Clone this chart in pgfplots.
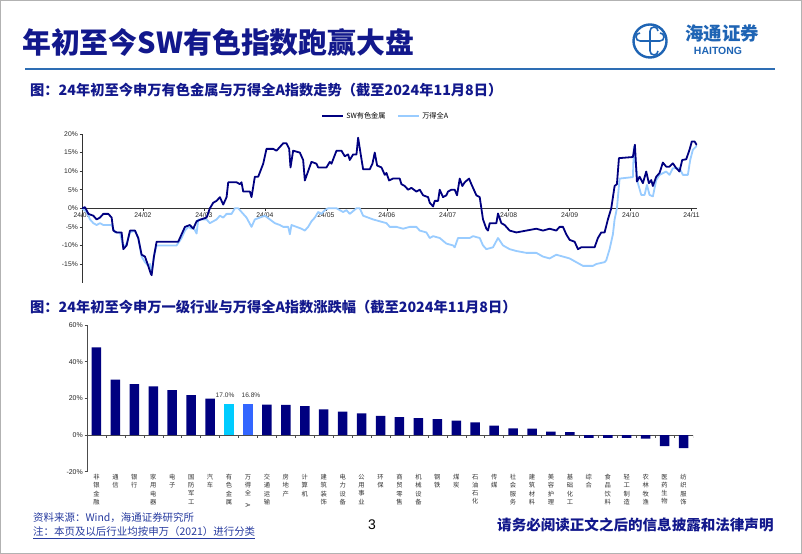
\documentclass[border=0pt]{standalone}
\usepackage{fontspec}
\setmainfont{Liberation Sans}
\newfontfamily\cjk{Noto Sans CJK SC}
\usepackage{pgfplots}
\pgfplotsset{compat=1.18}
\definecolor{titleblue}{RGB}{18,24,140}
\definecolor{ruleblue}{RGB}{46,110,180}
\definecolor{logoblue}{RGB}{30,100,180}
\definecolor{darkS}{RGB}{0,0,128}
\definecolor{lightS}{RGB}{153,204,255}
\definecolor{cyanbar}{RGB}{0,204,255}
\definecolor{bluebar}{RGB}{51,102,255}
\definecolor{footblue}{RGB}{40,60,160}
\begin{document}
\begin{tikzpicture}[x=1bp,y=1bp]
\useasboundingbox (0,0) rectangle (802,554);
\fill[white] (0,0) rectangle (802,554);
\draw[gray!60, line width=1bp] (0.5,0.5) rectangle (801.5,553.5);
% title
\node[anchor=west, inner sep=0, text=titleblue, font=\cjk\bfseries\fontsize{29}{31}\selectfont] at (22,512) {年初至今SW有色指数跑赢大盘};
\draw[ruleblue, line width=2bp] (25,485) -- (775,485);
% logo
\draw[logoblue, line width=2.4bp] (650,513) circle (16.5);
\draw[logoblue, line width=2bp] (650,503) -- (650,523) (640,513) -- (660,513);
\draw[logoblue, line width=1.6bp] (650,523) arc (0:-180:-4) (650,503) arc (0:180:-4) (640,513) arc (90:-90:-4) (660,513) arc (90:270:-4);
\node[text=logoblue, font=\cjk\bfseries\fontsize{18.5}{20}\selectfont, inner sep=0] at (722,521) {海通证券};
\node[text=logoblue, font=\bfseries\fontsize{10.5}{12}\selectfont, inner sep=0] at (718,503) {HAITONG};
% subtitles
\node[anchor=west, inner sep=0, text=titleblue, font=\cjk\bfseries\fontsize{14.3}{16}\selectfont] at (30,464) {图：24年初至今申万有色金属与万得全A指数走势（截至2024年11月8日）};
\node[anchor=west, inner sep=0, text=titleblue, font=\cjk\bfseries\fontsize{14.3}{16}\selectfont] at (30,247) {图：24年初至今申万一级行业与万得全A指数涨跌幅（截至2024年11月8日）};
% footer
\node[anchor=west, inner sep=0, text=footblue, font=\cjk\fontsize{10.5}{12}\selectfont] at (33,36) {资料来源：Wind，海通证券研究所};
\node[anchor=west, inner sep=0, text=footblue, font=\cjk\fontsize{10.5}{12}\selectfont] (n2) at (33,22) {注：本页及以后行业均按申万（2021）进行分类};
\draw[footblue, line width=0.6bp] ([yshift=-1.5bp]n2.south west) -- ([yshift=-1.5bp]n2.south east);
\node[font=\fontsize{14}{16}\selectfont, inner sep=0] at (372,29) {3};
\node[anchor=west, inner sep=0, text=titleblue, font=\cjk\bfseries\fontsize{14.6}{16}\selectfont] at (497,29) {请务必阅读正文之后的信息披露和法律声明};

% line chart
\begin{axis}[
 at={(82bp,271.4bp)}, anchor=south west, scale only axis,
 width=615bp, height=148.6bp,
 xmin=0, xmax=10.09, ymin=-20, ymax=20,
 axis x line=middle, axis y line=left,
 axis line style={-, black!80, line width=0.6bp},
 hide obscured x ticks=false, hide obscured y ticks=false,
 xtick={0,1,...,10},
 xticklabels={24/01,24/02,24/03,24/04,24/05,24/06,24/07,24/08,24/09,24/10,24/11},
 ytick={-15,-10,...,20},
 yticklabel={\pgfmathprintnumber{\tick}\%},
 /pgf/number format/assume math mode=true,
 tick style={black!80, line width=0.5bp},
 major tick length=2.5bp,
 tick align=outside,
 ticklabel style={font=\fontsize{6.8}{8}\selectfont, text=black!85},
 xticklabel style={inner sep=1.5bp},
 yticklabel style={inner sep=1.5bp},
 legend style={at={(0.494,1.121)}, anchor=center, draw=none, fill=none, legend columns=2, font=\cjk\fontsize{7.2}{8}\selectfont, /tikz/every even column/.append style={column sep=10bp}, inner sep=0pt},
 legend image code/.code={\draw[#1, line width=1.8bp] (0bp,0bp) -- (21bp,0bp);},
]
\addplot[lightS, line width=1.8bp, line join=round, forget plot] coordinates {
(0,0) (0.077,-1) (0.131,-3) (0.186,-4) (0.24,-4.5) (0.295,-4) (0.35,-4.5) (0.486,-4.5) (0.541,-6.5) (0.623,-6.5) (0.678,-10.5) (0.732,-9.5) (0.787,-6.5) (0.869,-6) (0.923,-8) (0.978,-13) (1.033,-14.5) (1.087,-15.5) (1.115,-15) (1.142,-17.5) (1.18,-13) (1.224,-10) (1.552,-10) (1.634,-8) (1.689,-6) (1.743,-5) (1.798,-5.5) (1.825,-5) (1.88,-6.8) (1.907,-3) (1.989,-3) (2.044,-3) (2.098,-4) (2.153,-3.5) (2.208,-3) (2.262,-2) (2.317,-2.5) (2.372,-1.5) (2.454,-1.5) (2.508,0) (2.563,0) (2.617,-1) (2.699,-2.5) (2.781,-5) (2.836,-3) (2.918,-2.5) (3.0,-2) (3.082,-3) (3.164,-4) (3.246,-4.5) (3.301,-5) (3.383,-5) (3.41,-7) (3.437,-4.5) (3.519,-5) (3.601,-5.5) (3.656,-6) (3.71,-5) (3.765,-3.5) (3.82,-2.5) (3.874,-1) (3.929,-1.5) (3.984,-0.5) (4.038,0) (4.12,0) (4.175,0) (4.284,-1) (4.339,-0.5) (4.393,-1.5) (4.503,0) (4.557,0) (4.612,-2) (4.694,-2.5) (4.776,-3) (4.885,-3.5) (4.995,-4) (5.049,-5) (5.158,-5) (5.268,-5.5) (5.377,-5) (5.486,-5) (5.541,-6) (5.65,-6.5) (5.705,-8) (5.76,-7.5) (5.869,-8) (5.978,-9.5) (6.087,-10) (6.115,-10.5) (6.169,-8) (6.251,-8) (6.361,-8) (6.415,-7.5) (6.525,-8) (6.579,-10) (6.634,-11) (6.743,-10.5) (6.825,-8) (6.907,-10) (7.016,-11) (7.126,-11.5) (7.29,-12) (7.454,-12) (7.563,-13) (7.672,-13.5) (7.781,-12.5) (7.891,-13) (8.0,-13.5) (8.109,-14.5) (8.219,-15.5) (8.383,-15.5) (8.437,-15) (8.574,-14.5) (8.601,-14) (8.656,-11) (8.71,-7) (8.738,-3) (8.776,0) (8.82,8) (9.038,8.4) (9.055,16.6) (9.12,6.75) (9.175,3.6) (9.23,3.6) (9.268,6.3) (9.311,3.6) (9.366,3.2) (9.421,7.6) (9.475,9) (9.585,9.9) (9.639,9) (9.694,10.8) (9.803,10.8) (9.858,9) (9.94,9) (9.978,13) (10.022,15.75) (10.087,16.8)
};
\addplot[darkS, line width=1.8bp, line join=round] coordinates {
(0,0) (0.049,0.3) (0.104,-1.5) (0.186,-2) (0.24,-3) (0.295,-2.5) (0.35,-1.5) (0.432,-1.5) (0.486,-2.5) (0.514,-6) (0.568,-6.5) (0.65,-6.5) (0.678,-11) (0.732,-10) (0.787,-6) (0.869,-6) (0.923,-8) (0.978,-12.5) (1.033,-13) (1.087,-15.5) (1.126,-17.5) (1.142,-18) (1.18,-13) (1.224,-9) (1.579,-9) (1.634,-7) (1.689,-5) (1.77,-4.5) (1.825,-5.5) (1.88,-3.5) (1.95,-3) (2.044,-2.5) (2.098,0) (2.153,1.5) (2.208,2) (2.262,3) (2.317,1) (2.372,3) (2.399,7) (2.536,7) (2.59,6.5) (2.617,7) (2.645,4.5) (2.754,4.5) (2.781,3) (2.836,8.5) (2.891,8.5) (2.973,12) (3.027,16) (3.137,16) (3.191,15.5) (3.246,16.5) (3.301,17.5) (3.355,17.5) (3.399,16) (3.421,11) (3.464,15.5) (3.574,15) (3.628,13) (3.656,7.5) (3.71,10) (3.765,12.5) (3.847,12) (3.874,11) (4.011,11) (4.066,12.5) (4.093,12) (4.175,15.5) (4.257,15.5) (4.311,14) (4.366,14.5) (4.393,13) (4.448,14.5) (4.503,14.5) (4.53,19) (4.568,15) (4.612,10.5) (4.721,10.5) (4.765,12) (4.803,15) (4.842,11.5) (4.913,11) (4.967,9) (4.995,9.5) (5.038,7.5) (5.104,8) (5.213,8) (5.24,6.5) (5.295,6) (5.35,5) (5.404,5.5) (5.486,4.5) (5.541,5) (5.596,3.5) (5.678,3) (5.705,1.5) (5.76,0.5) (5.787,2) (5.842,2) (5.869,5) (5.923,3) (5.978,3.5) (6.005,4.5) (6.06,5) (6.115,5) (6.153,3.5) (6.197,8) (6.24,6) (6.279,7) (6.35,8) (6.388,6.5) (6.47,3.5) (6.525,3) (6.579,-3) (6.634,-5.5) (6.661,-6) (6.689,-4) (6.798,-4) (6.825,-1.4) (6.88,-4) (6.934,-4.5) (7.016,-6) (7.126,-6.5) (7.29,-6) (7.454,-5.5) (7.563,-6) (7.672,-5.5) (7.781,-6) (7.836,-5) (7.891,-5) (7.945,-7) (8.0,-8.5) (8.082,-9) (8.137,-11) (8.191,-10.5) (8.41,-10.5) (8.464,-8) (8.519,-6.5) (8.574,-6.5) (8.628,-3) (8.683,0) (8.738,6) (8.776,6.5) (8.809,13.5) (9.038,13.8) (9.071,17.1) (9.104,7.2) (9.148,8.5) (9.202,6.75) (9.257,9.9) (9.3,6.75) (9.339,7.6) (9.366,6) (9.421,8.5) (9.475,9.5) (9.53,12.3) (9.585,11.2) (9.639,11.2) (9.694,12.1) (9.749,10.8) (9.803,9.9) (9.847,13) (9.913,13.2) (9.967,15.75) (10.005,18) (10.049,18) (10.087,17)
};
\addlegendentry{SW有色金属}
\addlegendimage{lightS}
\addlegendentry{万得全A}
\end{axis}

% bar chart
\begin{axis}[
 at={(87bp,82.3bp)}, anchor=south west, scale only axis,
 width=606bp, height=146.7bp,
 xmin=-0.5, xmax=31.5, ymin=-20, ymax=60,
 axis x line=middle, axis y line=left,
 axis line style={-, black!70, line width=0.6bp},
 hide obscured x ticks=false, hide obscured y ticks=false,
 ybar, bar width=9.5bp,
 xtick={0,1,...,31},
 xtick style={draw=none},
 ytick={-20,0,20,40,60},
 ytick style={black!70, line width=0.5bp},
 major tick length=2.5bp,
 tick align=outside,
 yticklabel={\pgfmathprintnumber{\tick}\%},
 /pgf/number format/assume math mode=true,
 yticklabel style={font=\fontsize{7}{8}\selectfont, text=black!85, inner sep=1.5bp},
 xticklabels={{非\\银\\金\\融},{通\\信},{银\\行},{家\\用\\电\\器},{电\\子},{国\\防\\军\\工},{汽\\车},{有\\色\\金\\属},{万\\得\\全\\\rotatebox{-90}{A}},{交\\通\\运\\输},{房\\地\\产},{计\\算\\机},{建\\筑\\装\\饰},{电\\力\\设\\备},{公\\用\\事\\业},{环\\保},{商\\贸\\零\\售},{机\\械\\设\\备},{钢\\铁},{煤\\炭},{石\\油\\石\\化},{传\\媒},{社\\会\\服\\务},{建\\筑\\材\\料},{美\\容\\护\\理},{基\\础\\化\\工},{综\\合},{食\\品\\饮\\料},{轻\\工\\制\\造},{农\\林\\牧\\渔},{医\\药\\生\\物},{纺\\织\\服\\饰}},
 xticklabel style={anchor=north, yshift=-36bp, align=center, font=\cjk\fontsize{6.3}{8.3}\selectfont, text=black!80, inner sep=0.5bp},
 nodes near coords style={font=\fontsize{6.6}{8}\selectfont, text=black!80},
]
\addplot[fill=darkS, draw=none, bar shift=0pt] coordinates {
(0,47.8) (1,30.2) (2,27.8) (3,26.5) (4,24.5) (5,21.8) (6,19.8)
(9,16.6) (10,16.4) (11,15.8) (12,14.0) (13,12.7) (14,11.8) (15,10.5) (16,9.8) (17,9.2) (18,8.7) (19,7.8) (20,6.9) (21,5.1) (22,3.6) (23,3.5) (24,1.8) (25,1.6) (26,-1.6) (27,-1.6) (28,-1.6) (29,-2.0) (30,-6.0) (31,-7.1)
};
\addplot[fill=cyanbar, draw=none, bar shift=0pt, nodes near coords={\pgfmathprintnumber[fixed,fixed zerofill,precision=1]{\pgfplotspointmeta}\%}, every node near coord/.append style={xshift=-4bp, yshift=3bp}] coordinates {(7,17.0)};
\addplot[fill=bluebar, draw=none, bar shift=0pt, nodes near coords={\pgfmathprintnumber[fixed,fixed zerofill,precision=1]{\pgfplotspointmeta}\%}, every node near coord/.append style={xshift=3bp, yshift=3bp}] coordinates {(8,16.8)};
\pgfplotsinvokeforeach{-0.5,0.5,...,31.5}{\draw[black!70, line width=0.5bp] (axis cs:#1,0) -- ++(0pt,-2.5pt);}
\end{axis}
\end{tikzpicture}
\end{document}
